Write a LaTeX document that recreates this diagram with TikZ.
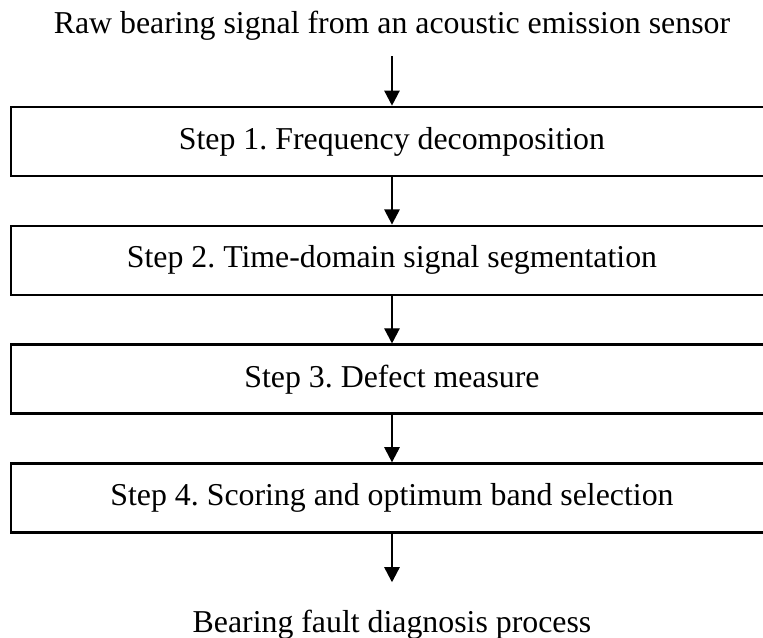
\documentclass[tikz,border=0pt]{standalone}
\usepackage{fontspec}
\setmainfont{Liberation Serif}
\usepackage{tikz}
\usetikzlibrary{arrows.meta, positioning}
\frenchspacing

\begin{document}
\begin{tikzpicture}[
        stepbox/.style={draw, line width=2pt, minimum width=20.19cm, minimum height=1.83cm, inner sep=0pt, font=\fontsize{24}{28}\selectfont},
        plaintext/.style={inner sep=0pt, anchor=base, font=\fontsize{24}{28}\selectfont},
        flow/.style={line width=1pt, -{Triangle[length=0.4cm, width=0.41cm]}},
        node distance=1.25cm
    ]
        \useasboundingbox (0, 0) rectangle (20.22, -16.907);

        \node[plaintext] (raw) at (10.388, -0.875) {Raw bearing signal from an acoustic emission sensor};

        \node[stepbox] (s1) at (10.388, -3.75) {Step 1. Frequency decomposition};
        \node[stepbox, below=of s1] (s2) {Step 2. Time-domain signal segmentation};
        \node[stepbox, below=of s2] (s3) {Step 3. Defect measure};
        \node[stepbox, below=of s3] (s4) {Step 4. Scoring and optimum band selection};

        \node[plaintext] (diag) at (10.388, -16.75) {Bearing fault diagnosis process};

        \draw[flow, shorten <=0.43cm] (raw) -- (s1);
        \draw[flow] (s1) -- (s2);
        \draw[flow] (s2) -- (s3);
        \draw[flow] (s3) -- (s4);
        \draw[flow, shorten >=0.72cm] (s4) -- (diag);

    \end{tikzpicture}
\end{document}
